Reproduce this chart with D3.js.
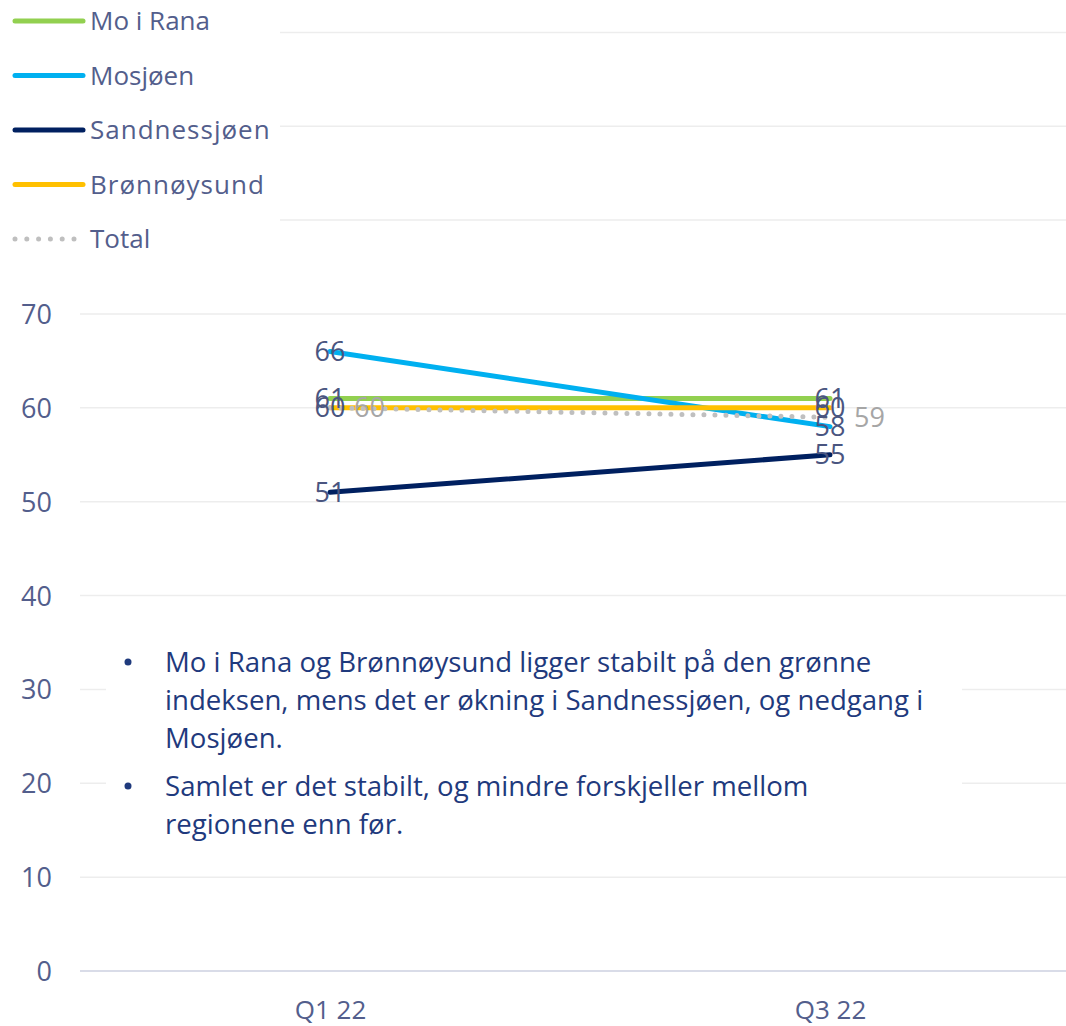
<html>
<head>
<script src="https://d3js.org/d3.v7.min.js"></script>
<style>
  body { margin: 0; background: #fff; }
  text { font-family: "Open Sans", "Noto Sans", sans-serif; }
</style>
</head>
<body>
<script>
// chart data
var quarters = ["Q1 22", "Q3 22"];
var seriesNames = ["Mo i Rana", "Mosjøen", "Sandnessjøen", "Brønnøysund", "Total"];
var moIRana = [61, 61];
var mosjoen = [66, 58];
var sandnessjoen = [51, 55];
var bronnoysund = [60, 60];
var total = [60, 59];
var yTicks = [0, 10, 20, 30, 40, 50, 60, 70, 80, 90, 100];
var bullets = [
  ["Mo i Rana og Brønnøysund ligger stabilt på den grønne",
   "indeksen, mens det er økning i Sandnessjøen, og nedgang i",
   "Mosjøen."],
  ["Samlet er det stabilt, og mindre forskjeller mellom",
   "regionene enn før."]
];

var colors = ["#92D050", "#00B0F0", "#002060", "#FFC000", "#BFBFBF"];
var values = [moIRana, mosjoen, sandnessjoen, bronnoysund, total];
var series = seriesNames.map(function(n, i) {
  return {name: n, color: colors[i], values: values[i], dotted: n == "Total"};
});

var width = 1066, height = 1026;
var slate = "#535E8C";

var svg = d3.select("body").append("svg")
  .attr("width", width)
  .attr("height", height);

var xScale = d3.scalePoint()
  .domain(quarters)
  .range([330, 830]);

var yScale = d3.scaleLinear()
  .domain([0, 100])
  .range([971, 32.4]);

// gridlines
svg.append("g")
  .selectAll("line")
  .data(yTicks)
  .enter()
  .append("line")
  .attr("x1", 80)
  .attr("x2", width)
  .attr("y1", function(d) { return yScale(d); })
  .attr("y2", function(d) { return yScale(d); })
  .attr("stroke", function(d) { return d == 0 ? "#D9DCE8" : "#EDEDED"; })
  .attr("stroke-width", function(d) { return d == 0 ? 2 : 1.5; });

// y axis labels
var yAxis = d3.axisLeft(yScale).tickValues(yTicks).tickSize(0).tickPadding(0);
var yg = svg.append("g")
  .attr("transform", "translate(52,0)")
  .call(yAxis);
yg.select(".domain").remove();
yg.selectAll("text")
  .attr("font-size", 27)
  .attr("fill", slate)
  .attr("dy", "0.35em")
  .style("font-family", "Open Sans");

// x axis labels
var xAxis = d3.axisBottom(xScale).tickSize(0).tickPadding(0);
var xg = svg.append("g")
  .attr("transform", "translate(0,1010)")
  .call(xAxis);
xg.select(".domain").remove();
xg.selectAll("text")
  .attr("font-size", 26)
  .attr("fill", slate)
  .attr("dy", "0.35em")
  .style("font-family", "Open Sans");

// lines
var lineGenerator = d3.line()
  .x(function(d, i) { return xScale(quarters[i]); })
  .y(function(d) { return yScale(d); });

svg.append("g")
  .selectAll("path")
  .data(series)
  .enter()
  .append("path")
  .attr("d", function(s) { return lineGenerator(s.values); })
  .attr("fill", "none")
  .attr("stroke", function(s) { return s.color; })
  .attr("stroke-width", 5)
  .attr("stroke-linecap", "round")
  .attr("stroke-dasharray", function(s) { return s.dotted ? "0 11" : null; });

// data labels
series.forEach(function(s) {
  svg.append("g")
    .selectAll("text")
    .data(s.values)
    .enter()
    .append("text")
    .attr("x", function(d, i) { return xScale(quarters[i]) + (s.dotted ? 24 : 0); })
    .attr("y", function(d) { return yScale(d); })
    .attr("dy", "0.35em")
    .attr("text-anchor", s.dotted ? "start" : "middle")
    .attr("font-size", 27)
    .attr("fill", s.dotted ? "#A6A6A6" : "#4A5580")
    .text(function(d) { return d; });
});

// legend
var legend = svg.append("g");
legend.append("rect")
  .attr("x", 0).attr("y", 0)
  .attr("width", 280).attr("height", 262)
  .attr("fill", "#fff");

var rows = legend.selectAll("g")
  .data(series)
  .enter()
  .append("g")
  .attr("transform", function(s, i) { return "translate(0," + (21 + i * 54.5) + ")"; });

rows.append("line")
  .attr("x1", 15).attr("x2", 83)
  .attr("y1", 0).attr("y2", 0)
  .attr("stroke", function(s) { return s.color; })
  .attr("stroke-width", 5)
  .attr("stroke-linecap", "round")
  .attr("stroke-dasharray", function(s) { return s.dotted ? "0 11.8" : null; });

rows.append("text")
  .attr("x", 90)
  .attr("y", 0)
  .attr("dy", "0.35em")
  .attr("font-size", 26)
  .attr("fill", slate)
  .attr("letter-spacing", function(s) { return s.name == "Sandnessjøen" || s.name == "Brønnøysund" ? 1 : 0; })
  .text(function(s) { return s.name; });

// bullet text box
var box = svg.append("g");
box.append("rect")
  .attr("x", 106).attr("y", 625)
  .attr("width", 856).attr("height", 230)
  .attr("fill", "#fff");

var lineY = 672;
bullets.forEach(function(par, p) {
  box.append("circle")
    .attr("cx", 128)
    .attr("cy", lineY - 10)
    .attr("r", 3.5)
    .attr("fill", "#1F3A7D");
  par.forEach(function(t) {
    box.append("text")
      .attr("x", 165)
      .attr("y", lineY)
      .attr("font-size", 27.6)
      .attr("fill", "#1F3A7D")
      .text(t);
    lineY += 38;
  });
  lineY += 10;
});
</script>
</body>
</html>
